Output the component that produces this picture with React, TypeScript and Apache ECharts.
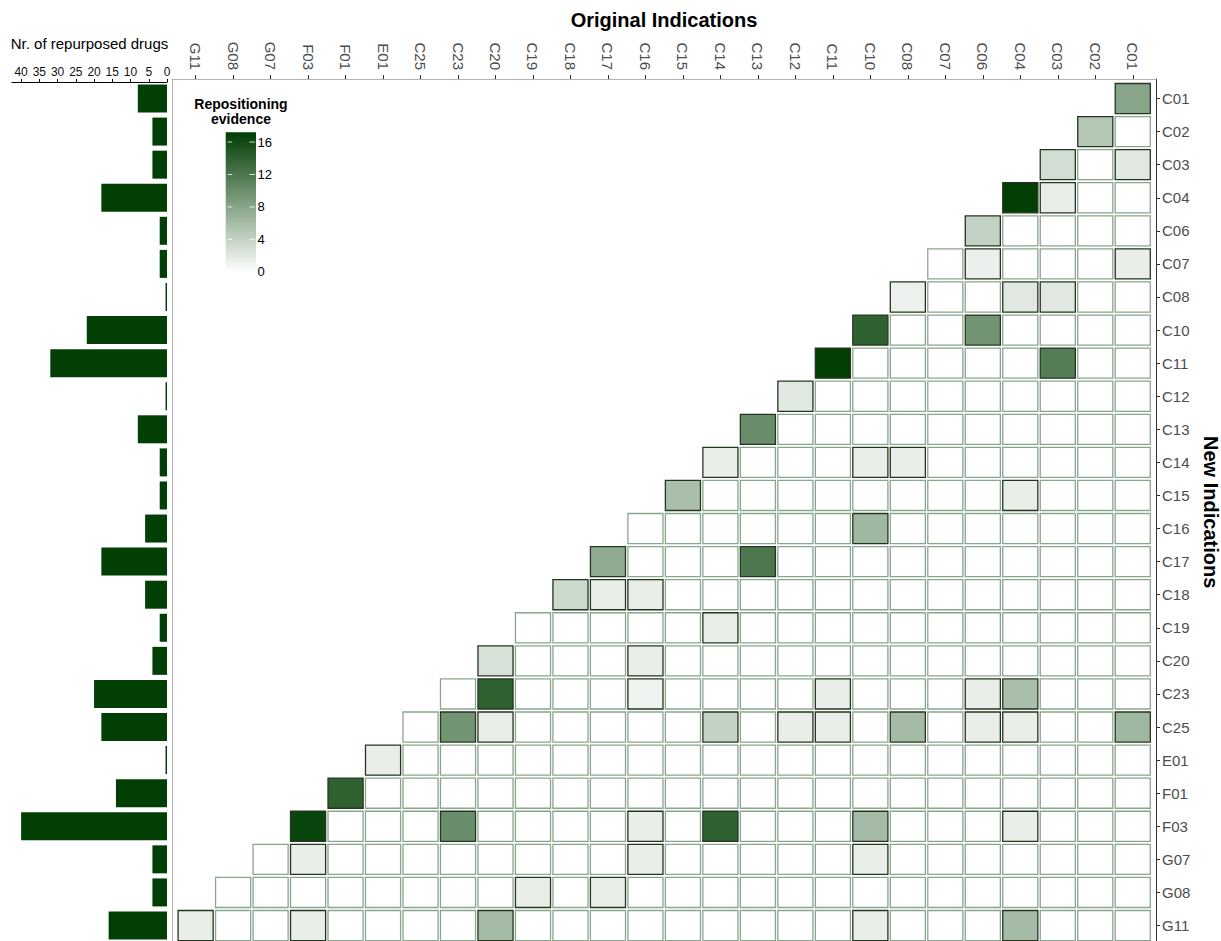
import React, { useEffect, useRef } from "react";
import * as echarts from "echarts";

// New indications (rows, top to bottom)
const rows = ["C01","C02","C03","C04","C06","C07","C08","C10","C11","C12","C13","C14","C15","C16","C17","C18","C19","C20","C23","C25","E01","F01","F03","G07","G08","G11"];
// Original indications (columns, left to right)
const cols = [...rows].reverse();

// Number of repurposed drugs per new indication
const drugCounts = [8,4,4,18,2,2,0.4,22,32,0.4,8,2,2,6,18,6,2,4,20,18,0.4,14,40,4,4,16];
const barTicks = [0,5,10,15,20,25,30,35,40];

// Non-zero repositioning evidence: [new indication, original indication, value]
const evidence: [string, string, number][] = [
  ["C01","C01",8],
  ["C02","C02",5],
  ["C03","C03",3],["C03","C01",2],
  ["C04","C04",17],["C04","C03",1.5],
  ["C06","C06",4],
  ["C07","C06",1.3],["C07","C01",1.5],
  ["C08","C08",1.2],["C08","C04",2],["C08","C03",2],
  ["C10","C10",14],["C10","C06",9.5],
  ["C11","C11",17],["C11","C03",11.5],
  ["C12","C12",2],
  ["C13","C13",10],
  ["C14","C14",1.5],["C14","C10",1.5],["C14","C08",1.5],
  ["C15","C15",5.7],["C15","C04",1.5],
  ["C16","C10",6.4],
  ["C17","C17",7.5],["C17","C13",12],
  ["C18","C18",3.4],["C18","C17",1.5],["C18","C16",1.5],
  ["C19","C14",1.5],
  ["C20","C20",2.7],["C20","C16",1.5],
  ["C23","C20",14],["C23","C16",1],["C23","C11",1.5],["C23","C06",1.5],["C23","C04",5.7],
  ["C25","C23",9.5],["C25","C20",1.5],["C25","C14",4],["C25","C12",1.5],["C25","C11",1.5],["C25","C08",6],["C25","C06",1.5],["C25","C04",1.5],["C25","C01",6.4],
  ["E01","E01",1.5],
  ["F01","F01",14],
  ["F03","F03",16.5],["F03","C23",10],["F03","C16",1.5],["F03","C14",14],["F03","C10",6],["F03","C04",1.5],
  ["G07","F03",1.5],["G07","C16",1.5],["G07","C10",1.5],
  ["G08","C19",1.5],["G08","C17",1.5],
  ["G11","G11",1.5],["G11","F03",1.5],["G11","C20",6],["G11","C10",1.5],["G11","C04",6],
];

const colorTicks = [0,4,8,12,16];
const colorMin = 0;
const colorMax = 17;

const DARK = "#023f05";

export default function App() {
  const ref = useRef<HTMLDivElement>(null);

  useEffect(() => {
    if (!ref.current) return;
    const chart = echarts.init(ref.current, null, { renderer: "svg" });

    const lookup = new Map<string, number>();
    evidence.forEach(([r, c, v]) => lookup.set(r + "|" + c, v));
    const cells: number[][] = [];
    rows.forEach((r, ri) => {
      rows.forEach((c, ci) => {
        if (ci <= ri) {
          const v = lookup.get(r + "|" + c) ?? 0;
          cells.push([cols.indexOf(c), ri, v]);
        }
      });
    });

    // colour-bar legend geometry
    const lgX = 225.7, lgY = 132.3, lgW = 30.3, lgH = 144.4;
    const lgMin = -0.6, lgMax = 17.2;
    const lgYv = (v: number) => lgY + lgH - ((v - lgMin) / (lgMax - lgMin)) * lgH;
    const offTop = (lgMax - colorMax) / (lgMax - lgMin);
    const offBot = (lgMax - colorMin) / (lgMax - lgMin);

    const graphics: any[] = [
      {
        type: "text",
        x: 241, y: 96,
        style: {
          text: "Repositioning\nevidence",
          font: "bold 14px 'Liberation Sans', Arial, sans-serif",
          fill: "#000",
          textAlign: "center",
          lineHeight: 15,
        },
      },
      {
        type: "rect",
        shape: { x: lgX, y: lgY, width: lgW, height: lgH },
        style: {
          fill: {
            type: "linear", x: 0, y: 0, x2: 0, y2: 1,
            colorStops: [
              { offset: offTop, color: DARK },
              { offset: offBot, color: "#ffffff" },
              { offset: 1, color: "#ffffff" },
            ],
          },
        },
      },
    ];
    colorTicks.forEach((t) => {
      const y = lgYv(t);
      graphics.push({ type: "line", shape: { x1: lgX + 2, y1: y, x2: lgX + 6.5, y2: y }, style: { stroke: "rgba(255,255,255,0.8)", lineWidth: 1 } });
      graphics.push({ type: "line", shape: { x1: lgX + lgW - 6.5, y1: y, x2: lgX + lgW - 1, y2: y }, style: { stroke: "rgba(255,255,255,0.8)", lineWidth: 1 } });
      graphics.push({
        type: "text", x: lgX + lgW + 1.5, y,
        style: { text: String(t), font: "13px 'Liberation Sans', Arial, sans-serif", fill: "#000", textVerticalAlign: "middle", textAlign: "left" },
      });
    });

    const idx = cols.map((_, i) => i);
    const font = "'Liberation Sans', Arial, sans-serif";

    const option: any = {
      animation: false,
      backgroundColor: "#ffffff",
      textStyle: { fontFamily: font },
      grid: [
        { left: 172, top: 79, width: 984, height: (25.6 + 0.59) * 33.08, outerBoundsMode: "none", containLabel: false },
        { left: 12, top: 98.5 - 33.08 / 2, width: 155, height: 26 * 33.08, outerBoundsMode: "none", containLabel: false },
      ],
      visualMap: {
        type: "continuous",
        show: false,
        min: colorMin,
        max: colorMax,
        dimension: 2,
        seriesIndex: 0,
        inRange: { color: ["#ffffff", DARK] },
      },
      xAxis: [
        {
          type: "value",
          gridIndex: 0,
          position: "top",
          min: -0.63,
          max: 25.62,
          name: "Original Indications",
          nameLocation: "middle",
          nameGap: 49,
          nameTextStyle: { fontSize: 20, fontWeight: "bold", color: "#000", fontFamily: font },
          splitLine: { show: false },
          axisLine: { show: true, onZero: false, lineStyle: { color: "#b5b5b5", width: 1 } },
          axisTick: { show: true, customValues: idx, length: 4, lineStyle: { color: "#333" } },
          axisLabel: {
            customValues: idx,
            rotate: 90,
            margin: 9,
            fontSize: 15,
            color: "#4d4d4d",
            formatter: (v: number) => cols[Math.round(v)],
          },
        },
        {
          type: "value",
          gridIndex: 1,
          position: "top",
          inverse: true,
          min: 0,
          max: 42.5,
          name: "Nr. of repurposed drugs",
          nameLocation: "middle",
          nameGap: 31,
          nameTextStyle: { fontSize: 15, color: "#000", fontFamily: font },
          splitLine: { show: false },
          axisLine: { show: true, onZero: false, lineStyle: { color: "#000", width: 1.2 } },
          axisTick: { show: true, customValues: barTicks, length: 3, lineStyle: { color: "#000" } },
          axisLabel: { customValues: barTicks, margin: 4, fontSize: 12, color: "#111" },
        },
      ],
      yAxis: [
        {
          type: "value",
          gridIndex: 0,
          position: "right",
          inverse: true,
          min: -0.59,
          max: 25.6,
          name: "New Indications",
          nameLocation: "middle",
          nameGap: 42,
          nameRotate: -90,
          nameTextStyle: { fontSize: 20, fontWeight: "bold", color: "#000", fontFamily: font },
          splitLine: { show: false },
          axisLine: { show: true, onZero: false, lineStyle: { color: "#333", width: 1 } },
          axisTick: { show: true, customValues: idx, length: 4, lineStyle: { color: "#333" } },
          axisLabel: {
            customValues: idx,
            margin: 6,
            fontSize: 15,
            color: "#4d4d4d",
            formatter: (v: number) => rows[Math.round(v)],
          },
        },
        {
          type: "category",
          gridIndex: 1,
          inverse: true,
          data: rows,
          show: false,
        },
        {
          type: "value",
          gridIndex: 0,
          position: "left",
          min: -0.59,
          max: 25.6,
          splitLine: { show: false },
          axisLine: { show: true, onZero: false, lineStyle: { color: "#b5b5b5", width: 1 } },
          axisTick: { show: false },
          axisLabel: { show: false },
        },
      ],
      series: [
        {
          type: "custom",
          xAxisIndex: 0,
          yAxisIndex: 0,
          data: cells,
          encode: { x: 0, y: 1 },
          renderItem: (params: any, api: any) => {
            const v = api.value(2);
            const c = api.coord([api.value(0), api.value(1)]);
            const s = api.size([1, 1]);
            const w = s[0] - 2.4;
            const h = s[1] - 3;
            return {
              type: "rect",
              shape: { x: c[0] - w / 2, y: c[1] - h / 2, width: w, height: h },
              style: {
                fill: api.visual("color"),
                stroke: v > 0 ? "#24361f" : "#8aa58e",
                lineWidth: 1.3,
              },
            };
          },
        },
        {
          type: "bar",
          xAxisIndex: 1,
          yAxisIndex: 1,
          data: drugCounts,
          barWidth: 28,
          itemStyle: { color: DARK, borderWidth: 0 },
        },
      ],
      graphic: graphics,
    };

    chart.setOption(option);
    return () => chart.dispose();
  }, []);

  return (
    <div
      ref={ref}
      style={{ position: "absolute", left: 0, top: 0, width: 1221, height: 941, background: "#fff" }}
    />
  );
}
